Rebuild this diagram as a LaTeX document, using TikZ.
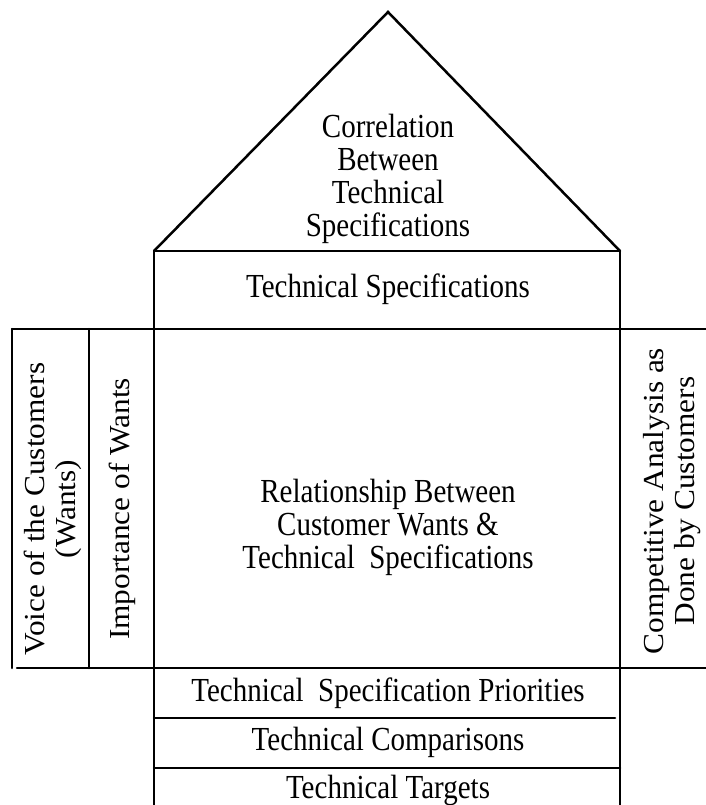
\documentclass[tikz,border=0pt]{standalone}
\usepackage{fontspec}
\setmainfont{Liberation Serif}
\usetikzlibrary{positioning}
\usetikzlibrary{calc}

\tikzset{
  wall/.style={line width=2.5pt, line cap=round},
  label/.style={align=center, font=\fontsize{29}{28.5}\selectfont, inner sep=0pt, yscale=1.16},
  sidelabel/.style={align=center, font=\fontsize{29}{31}\selectfont, inner sep=0pt, yscale=1.08, rotate=90},
}

\begin{document}
\begin{tikzpicture}[x=1pt, y=-1pt]

\useasboundingbox (0,0) rectangle (706,805);

% Roof
\coordinate (apex) at (388,12);
\coordinate (roofL) at (154,251);
\coordinate (roofR) at (620,251);
\draw[wall] (roofL) -- (apex) -- (roofR);
\draw[wall] (roofL) -- (roofR);

\node[label] (corr) at (388,179) {Correlation\\Between\\Technical\\Specifications};

% Technical specifications
\draw[wall] (154,251) -- (154,805);
\draw[wall] (620,251) -- (620,805);
\draw[wall] (12,329) -- (706,329);
\node[label] (techspec) at (388,289) {Technical Specifications};

% Left wing
\draw[wall] (12,329) -- (12,668);
\draw[wall] (89,329) -- (89,668);
\draw[wall] (17,668) -- (706,668);
\node[sidelabel] (voice) at (53,509) {Voice of the Customers\\(Wants)};
\node[sidelabel] (importance) at (122,509) {Importance of Wants};

% Right wing
\node[sidelabel] (compet) at (672,501) {Competitive Analysis as\\Done by Customers};

% Main room
\node[label] (relation) at (388,527) {Relationship Between\\Customer Wants \&\\Technical\ \ Specifications};

% Basement
\draw[wall] (154,718) -- (615,718);
\draw[wall] (154,768) -- (620,768);
\node[label] (prio) at (388,693) {Technical\ \ Specification Priorities};
\node[label] (comp) at (388,742) {Technical Comparisons};
\node[label] (target) at (388,790) {Technical Targets};

\end{tikzpicture}
\end{document}
